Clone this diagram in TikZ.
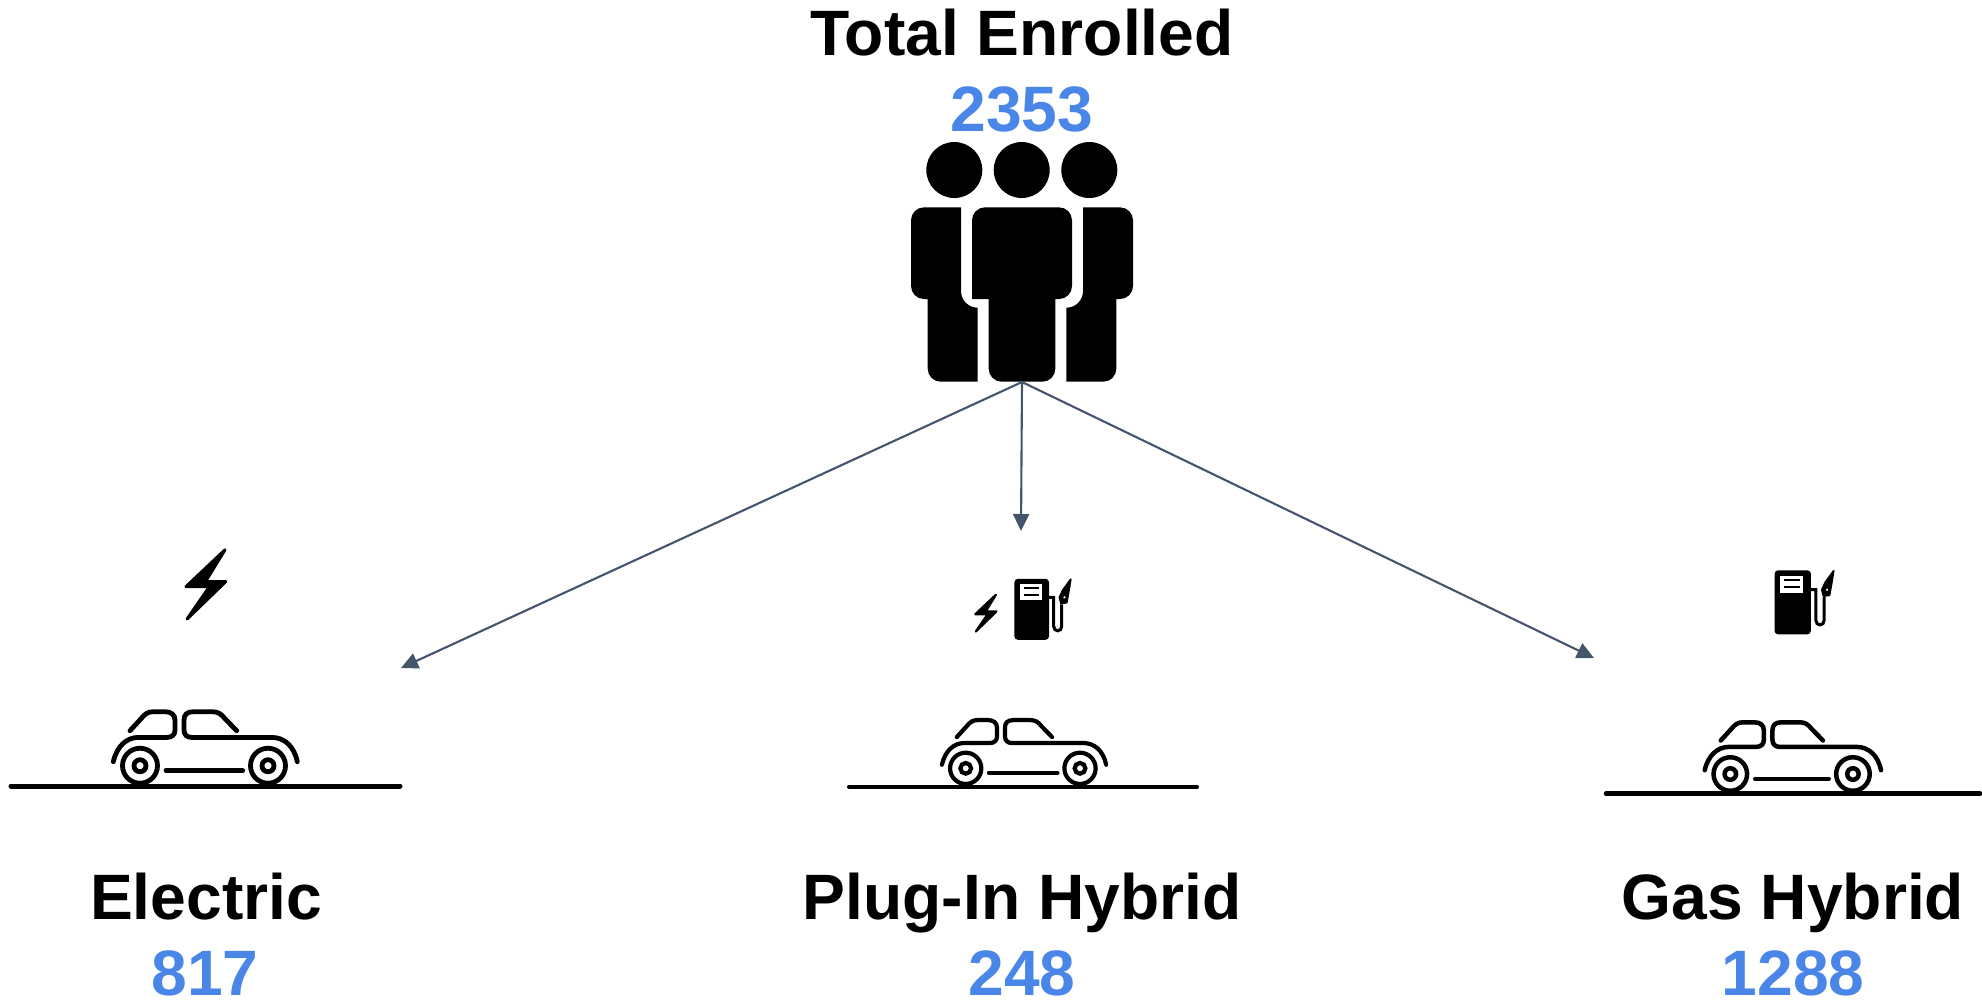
\documentclass[tikz,border=0pt]{standalone}
\usepackage{fontspec}
\setmainfont{Liberation Sans}
\usepackage{xcolor}
\usetikzlibrary{arrows.meta,calc}
\definecolor{countblue}{HTML}{4A86E8}
\definecolor{linkgrey}{HTML}{44546A}

\begin{document}
\begin{tikzpicture}[x=0.01cm,y=-0.01cm]
            \tikzset{title/.style = {anchor=base,inner sep=0,font=\fontsize{18.25}{22}\selectfont\bfseries}}
            \tikzset{count/.style = {title,text=countblue}}
            \tikzset{edge/.style = {draw=linkgrey,line width=.021cm,-{Triangle[length=.17cm,width=.16cm]}}}
            \tikzset{ground/.style = {line cap=round,line width=#1}}
            \tikzset{pics/bolt/.style = {code={
              \filldraw[line width=#1,line join=round] (19.3,-34.5) -- (-19.7,2.3) -- (3.7,2.3) -- (-18.7,34.8) -- (20,-2.7) -- (-0.2,-2.7) -- cycle;
            }}}
            \tikzset{pics/car/.style = {code={
              \begin{scope}[line width=#1,line cap=round]
              \draw (0,0) circle[radius=17.5];
              \draw (128,0) circle[radius=17.5];
              \draw (0,0) circle[radius=6];
              \draw (128,0) circle[radius=6];
              \draw (-26.7,-4) .. controls (-23,-20) and (-13,-28.3) .. (-1.7,-28.3) -- (26.7,-28.3)
                .. controls (32,-28.3) and (35,-31) .. (35,-35.7) -- (35,-45.7)
                .. controls (35,-51) and (31,-54) .. (25,-54) -- (13.3,-54)
                .. controls (8,-54) and (5,-52) .. (1,-47) -- (-10,-35);
              \draw (96.7,-35) -- (85,-47) .. controls (81,-52) and (78,-54) .. (72,-54) -- (53.3,-54)
                .. controls (47,-54) and (44,-51) .. (44,-45.7) -- (44,-35.7)
                .. controls (44,-31) and (47,-28.3) .. (51.7,-28.3) -- (131.7,-28.3)
                .. controls (144,-28.3) and (154,-20) .. (157.3,-4);
              \draw (26,5) -- (102.7,5);
              \end{scope}
            }}}
            \tikzset{pics/pump/.style = {code={
              \fill[rounded corners=.035cm] (-17.3,-30.5) rectangle (17.3,30.5);
              \fill[white] (-11.7,-25.3) rectangle (10,-9.3);
              \draw[line width=.022cm] (-8,-21) -- (7,-21);
              \draw[line width=.022cm] (-8,-14.5) -- (7,-14.5);
              \draw[line width=.03cm] (17.3,-12) -- (22,-12) -- (22,17)
                .. controls (22,23) and (30,23) .. (30,17) -- (30,-5);
              \filldraw[line width=.018cm,line join=round] (31.2,-19.3) -- (39,-30) -- (37,-17.7) -- (35,-6.7) -- (29.3,-6) -- (27.8,-12) -- cycle;
              \fill[white] (32.7,-12) circle[radius=1.2];
            }}}
            \useasboundingbox (0,0) rectangle (1982,1002);

            % labels
            \node[title] (total) at (1022,55.5) {Total Enrolled};
            \node[count] (totalcount) at (1022,131.5) {2353};
            \node[title] (electric) at (206,919) {Electric};
            \node[count] (electriccount) at (205,995.5) {817};
            \node[title] (plugin) at (1022,919) {Plug-In Hybrid};
            \node[count] (plugincount) at (1022,995.5) {248};
            \node[title] (gas) at (1793,919) {Gas Hybrid};
            \node[count] (gascount) at (1793,995.5) {1288};

            % people
            \foreach \x in {954.3,1021.7,1089.3}
            {
              \fill (\x,170) circle[radius=28];
            }
            \fill (961,207.3) [rounded corners=.13cm] -- (911,207.3) -- (911,299) [sharp corners] -- (927.7,299)
              [rounded corners=.13cm] -- (927.7,381.7) [sharp corners] -- (977.7,381.7) -- (977.7,307.7)
              .. controls (968,307.7) and (961,300) .. (961,291) -- cycle;
            \fill (972,299) [rounded corners=.13cm] -- (972,207.3) -- (1072,207.3) -- (1072,299) [sharp corners] -- (1055.3,299)
              [rounded corners=.13cm] -- (1055.3,381.7) -- (988.7,381.7) [sharp corners] -- (988.7,299) -- cycle;
            \fill (1083,207.3) [rounded corners=.13cm] -- (1133,207.3) -- (1133,299) [sharp corners] -- (1116.3,299)
              [rounded corners=.13cm] -- (1116.3,381.7) [sharp corners] -- (1066.3,381.7) -- (1066.3,307.7)
              .. controls (1076,307.7) and (1083,300) .. (1083,291) -- cycle;

            % electric
            \pic at (205.7,584.3) {bolt=.03cm};
            \pic at (140,765.7) {car=.048cm};
            \draw[ground=.05cm] (11,786) -- (400,786);

            % plug-in hybrid
            \pic[scale=.53] at (985.7,613) {bolt=.022cm};
            \pic at (1031.7,609.3) {pump};
            \pic[scale=.893] at (965.7,768.3) {car=.042cm};
            \draw[ground=.04cm] (849,786.7) -- (1197,786.7);

            % gas hybrid
            \pic[scale=1.05] at (1792.7,602.3) {pump};
            \pic[scale=.958] at (1730.3,774) {car=.045cm};
            \draw[ground=.045cm] (1606,793.7) -- (1980,793.7);

            % edges
            \coordinate (crowd) at (1022,382);
            \coordinate (toelectric) at (401,668);
            \coordinate (toplugin) at (1021,531);
            \coordinate (togas) at (1594,658);
            \foreach \y in {toelectric,toplugin,togas} {\draw[edge] (crowd) to (\y);}
\end{tikzpicture}
\end{document}
